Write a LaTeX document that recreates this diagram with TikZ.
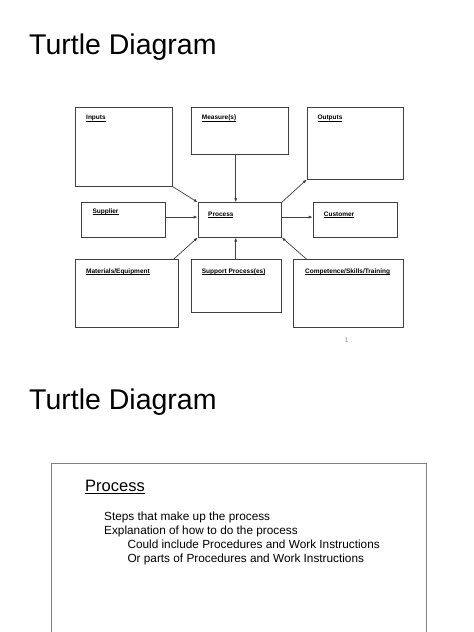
\documentclass[tikz,border=0pt]{standalone}
\usepackage{fontspec}
\setmainfont{Liberation Sans}
\usetikzlibrary{arrows.meta}
\tikzset{
  box/.style={draw=black!75, line width=0.8pt, anchor=north west, inner sep=0pt},
  lab/.style={anchor=base west, inner sep=0pt, font=\fontsize{6.5}{8}\selectfont\bfseries},
  conn/.style={draw=black!75, line width=0.7pt, -{Latex[length=4pt,width=3pt]}},
  title/.style={anchor=base west, inner sep=0pt, font=\fontsize{28.5}{34}\selectfont},
  body/.style={anchor=base west, inner sep=0pt, font=\fontsize{11.8}{14}\selectfont}
}
\newsavebox\ulbox
\newcommand\ulab[1]{\sbox\ulbox{#1}\rlap{\rule[-1.2pt]{\wd\ulbox}{0.5pt}}\usebox\ulbox}
\newcommand\uhead[1]{\sbox\ulbox{#1}\rlap{\rule[-2.2pt]{\wd\ulbox}{0.9pt}}\usebox\ulbox}
\begin{document}
\begin{tikzpicture}[x=1pt,y=-1pt]
\useasboundingbox (0,0) rectangle (474,632);
\fill[white] (0,0) rectangle (474,632);
% titles
\node[title] (t1) at (29,54.3) {Turtle Diagram};
\node[title] (t2) at (29,409.3) {Turtle Diagram};
% boxes
\node[box, minimum width=96.7pt, minimum height=79pt] (inputs) at (75,106.7) {};
\node[box, minimum width=96.7pt, minimum height=47.6pt] (measure) at (191,106.7) {};
\node[box, minimum width=96.6pt, minimum height=72pt] (outputs) at (306.7,106.7) {};
\node[box, minimum width=84.3pt, minimum height=34.4pt] (supplier) at (81,202.3) {};
\node[box, minimum width=83.3pt, minimum height=34.4pt] (process) at (197.7,202.3) {};
\node[box, minimum width=84pt, minimum height=34.4pt] (customer) at (312.7,202.3) {};
\node[box, minimum width=103.3pt, minimum height=68pt] (materials) at (75,259.3) {};
\node[box, minimum width=90pt, minimum height=53pt] (support) at (191,259.3) {};
\node[box, minimum width=110pt, minimum height=68pt] (competence) at (293.3,259.3) {};
\coordinate (vx) at (235.7,0);
% labels
\node[lab] (linputs) at (86,119.8) {\ulab{Inputs}};
\node[lab] (lmeasure) at (201.7,119.8) {\ulab{Measure(s)}};
\node[lab] (loutputs) at (317.3,119.8) {\ulab{Outputs}};
\node[lab] (lsupplier) at (92.3,213) {\ulab{Supplier}};
\node[lab, font=\fontsize{4}{4}\selectfont, text=black!40] (ldot) at (92.8,221.5) {.};
\node[lab] (lprocess) at (208,216.6) {\ulab{Process}};
\node[lab] (lcustomer) at (323.7,216.2) {\ulab{Customer}};
\node[lab] (lmaterials) at (86,273.3) {\ulab{Materials/Equipment}};
\node[lab] (lsupport) at (201.7,273.3) {\ulab{Support Process(es)}};
\node[lab] (lcompetence) at (305,273.3) {\ulab{Competence/Skills/Training}};
\node[anchor=base, inner sep=0pt, font=\fontsize{6.5}{8}\selectfont, text=black!45] (pnum) at (346.7,342) {1};
% connectors
\draw[conn] (inputs.south east) -- (process.north west);
\draw[conn] (measure.south -| vx) -- (process.north -| vx);
\draw[conn] (process.north east) -- (outputs.south west);
\draw[conn] ([yshift=2.8pt]supplier.east) -- ([yshift=2.8pt]process.west);
\draw[conn] ([yshift=2.8pt]process.east) -- ([yshift=2.8pt]customer.west);
\draw[conn] ([xshift=-5.6pt]materials.north east) -- (process.south west);
\draw[conn] (support.north -| vx) -- (process.south -| vx);
\draw[conn] ([xshift=13.4pt]competence.north west) -- (process.south east);
% lower panel
\draw[draw=black!50, line width=0.9pt] (51.7,632) -- (51.7,463.3) -- (426.7,463.3) -- (426.7,632);
\node[anchor=base west, inner sep=0pt, font=\fontsize{16.5}{20}\selectfont] (phead) at (85,491.7) {\uhead{Process}};
\node[body] (b1) at (104,520) {Steps that make up the process};
\node[body] (b2) at (104,534.3) {Explanation of how to do the process};
\node[body] (b3) at (127.3,548.3) {Could include Procedures and Work Instructions};
\node[body] (b4) at (127.3,562.3) {Or parts of Procedures and Work Instructions};
\end{tikzpicture}
\end{document}
